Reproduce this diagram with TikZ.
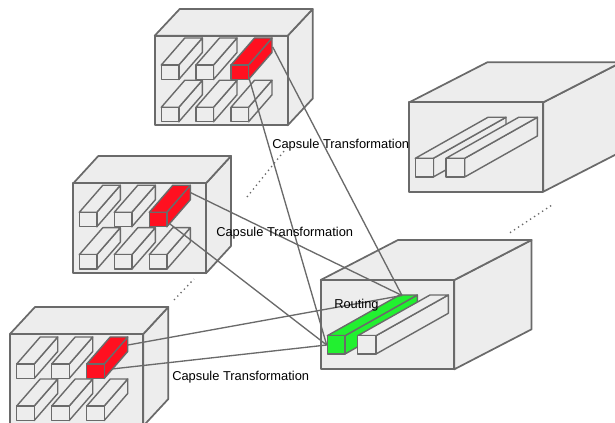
\documentclass[tikz,border=0pt]{standalone}
\usepackage{fontspec}
\setmainfont{Liberation Sans}
\definecolor{edgegray}{HTML}{6A6A6A}
\definecolor{facegray}{HTML}{EDEDED}
\definecolor{capred}{HTML}{FF1020}
\definecolor{capgreen}{HTML}{22F030}
\tikzset{
  px/.style={x=0.75pt,y=-0.75pt},
  solid face/.style={draw=edgegray,line width=1.3pt,line join=round},
  bar face/.style={draw=edgegray,line width=1.05pt,line join=round},
  link/.style={draw=edgegray,line width=1pt},
  dotlink/.style={draw=edgegray,line width=1pt,dash pattern=on 1pt off 2.6pt},
  caption/.style={font=\fontsize{9.65pt}{11pt}\selectfont,inner sep=0pt,text=black}
}
% #1 x, #2 y, #3 w, #4 h, #5 dx, #6 dy, #7 fill, #8 style
\newcommand{\prism}[8]{%
  \draw[#8,fill=#7] (#1+#3,#2) -- ++(#5,#6) -- ++(0,#4) -- ++(-#5,-#6) -- cycle;
  \draw[#8,fill=#7] (#1,#2) -- ++(#5,#6) -- ++(#3,0) -- ++(-#5,-#6) -- cycle;
  \draw[#8,fill=#7] (#1,#2) rectangle ++(#3,#4);
}
\newcommand{\barrow}[3]{%
  \prism{#1}{#2}{17.5}{14.5}{23.5}{-27}{#3}{bar face}%
}
\begin{document}
\begin{tikzpicture}[px]
\useasboundingbox (0,0) rectangle (615,423);
\clip (0,0) rectangle (615,423);
% top cube
\prism{154.7}{35.7}{133}{89.6}{25}{-26.7}{facegray}{solid face}
\barrow{161.3}{65}{facegray}
\barrow{196}{65}{facegray}
\barrow{231}{65}{capred}
\barrow{161.3}{107.3}{facegray}
\barrow{196}{107.3}{facegray}
\barrow{231}{107.3}{facegray}
% middle cube
\prism{73.3}{183.3}{132.7}{90}{25}{-27.3}{facegray}{solid face}
\barrow{79.3}{212.3}{facegray}
\barrow{114.3}{212.3}{facegray}
\barrow{149.3}{212.3}{capred}
\barrow{79.3}{254.7}{facegray}
\barrow{114.3}{254.7}{facegray}
\barrow{149.3}{254.7}{facegray}
% bottom cube
\prism{10}{334}{133.3}{92}{25}{-27}{facegray}{solid face}
\barrow{16.7}{364}{facegray}
\barrow{51.7}{364}{facegray}
\barrow{86.7}{364}{capred}
\barrow{16.7}{406}{facegray}
\barrow{51.7}{406}{facegray}
\barrow{86.7}{406}{facegray}
% upper right cube
\prism{409.3}{102.3}{134}{89.4}{78}{-40}{facegray}{solid face}
\prism{415.3}{158.3}{18}{18.7}{72.7}{-41}{facegray}{bar face}
\prism{446}{158.3}{18.7}{18.7}{72.7}{-41}{facegray}{bar face}
% lower right cube
\prism{320.7}{280}{133.6}{89.3}{77.3}{-40}{facegray}{solid face}
\prism{327.3}{335.7}{17.7}{18.3}{72.3}{-40.7}{capgreen}{bar face}
\prism{357.7}{335.7}{18.3}{18.3}{72.3}{-40.7}{facegray}{bar face}
% connector ends
\coordinate (greenback) at (402,295.5);
\coordinate (greenfront) at (326.7,345);
\coordinate (topa) at (272.7,47);
\coordinate (topb) at (249.3,79);
\coordinate (mida) at (190.7,192.7);
\coordinate (midb) at (170,224);
\coordinate (lowa) at (128,345);
\coordinate (lowb) at (112,369);
\draw[link] (topa) -- (greenback);
\draw[link] (topb) -- (greenfront);
\draw[link] (mida) -- (greenback);
\draw[link] (midb) -- (greenfront);
\draw[link] (lowa) -- (greenback);
\draw[link] (lowb) -- (greenfront);
% dotted trails
\coordinate (dota) at (247,197);
\coordinate (dotb) at (285,150);
\coordinate (dotc) at (174,300);
\coordinate (dotd) at (194,279);
\coordinate (dote) at (510,232.7);
\coordinate (dotf) at (552,205);
\draw[dotlink] (dota) -- (dotb);
\draw[dotlink] (dotc) -- (dotd);
\draw[dotlink] (dote) -- (dotf);
% labels
\node[caption,anchor=west] (capa) at (272,145.5) {Capsule Transformation};
\node[caption,anchor=west] (capb) at (216,233.5) {Capsule Transformation};
\node[caption,anchor=west] (capc) at (172,377.5) {Capsule Transformation};
\node[caption,anchor=west] (route) at (334,305.5) {Routing};
\end{tikzpicture}
\end{document}
